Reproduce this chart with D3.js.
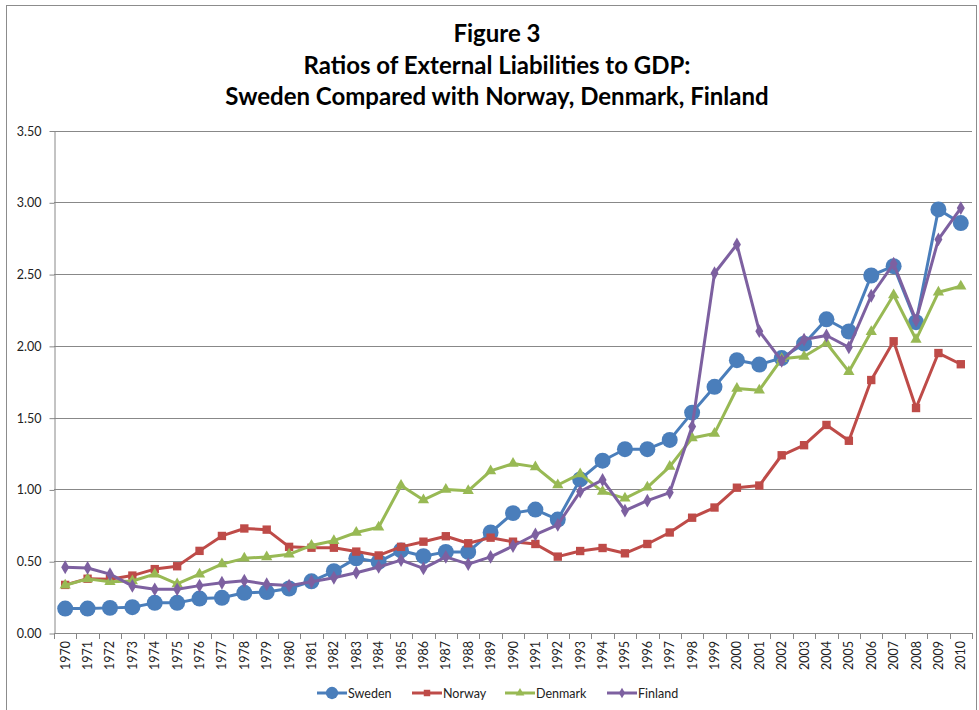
<!DOCTYPE html>
<html>
<head>
<meta charset="utf-8">
<script src="https://cdn.jsdelivr.net/npm/d3@7"></script>
<style>
	body { margin: 0; background: white; }
	text { font-family: Lato, 'Liberation Sans', sans-serif; }
</style>
</head>
<body>
<svg id="container" width="979" height="710"></svg>
<script>
// data
var years = d3.range(1970, 2011);
var sweden = [0.17, 0.17, 0.175, 0.18, 0.21, 0.21, 0.24, 0.245, 0.28, 0.285, 0.31,
	0.36, 0.43, 0.52, 0.495, 0.575, 0.535, 0.565, 0.565, 0.70, 0.835,
	0.86, 0.79, 1.07, 1.20, 1.28, 1.28, 1.345, 1.535, 1.715, 1.90,
	1.87, 1.915, 2.015, 2.185, 2.10, 2.49, 2.555, 2.165, 2.95, 2.855];
var norway = [0.335, 0.378, 0.375, 0.40, 0.445, 0.465, 0.572, 0.676, 0.728, 0.72, 0.60,
	0.594, 0.594, 0.567, 0.54, 0.60, 0.636, 0.674, 0.625, 0.664, 0.636,
	0.62, 0.532, 0.571, 0.592, 0.555, 0.62, 0.70, 0.803, 0.874, 1.012,
	1.027, 1.238, 1.308, 1.449, 1.339, 1.762, 2.032, 1.567, 1.95, 1.872];
var denmark = [0.333, 0.377, 0.357, 0.362, 0.41, 0.342, 0.41, 0.48, 0.52, 0.53, 0.548,
	0.61, 0.643, 0.70, 0.737, 1.027, 0.927, 1.00, 0.99, 1.129, 1.18,
	1.157, 1.031, 1.108, 0.985, 0.938, 1.015, 1.159, 1.358, 1.39, 1.703,
	1.691, 1.91, 1.926, 2.02, 1.82, 2.098, 2.354, 2.044, 2.373, 2.415];
var finland = [0.458, 0.453, 0.41, 0.328, 0.304, 0.304, 0.33, 0.35, 0.364, 0.34, 0.33,
	0.357, 0.385, 0.42, 0.46, 0.508, 0.45, 0.53, 0.48, 0.53, 0.606,
	0.686, 0.753, 0.985, 1.066, 0.852, 0.922, 0.978, 1.438, 2.506, 2.706,
	2.102, 1.896, 2.044, 2.072, 1.99, 2.349, 2.572, 2.178, 2.741, 2.96];
var yTicks = [0, 0.5, 1, 1.5, 2, 2.5, 3, 3.5];
var titleLines = ['Figure 3', 'Ratios of External Liabilities to GDP:', 'Sweden Compared with Norway, Denmark, Finland'];

var series = [
	{ name: 'Sweden', values: sweden, color: '#4a7ebb', symbol: d3.symbolCircle, size: 200 },
	{ name: 'Norway', values: norway, color: '#be4b48', symbol: d3.symbolSquare, size: 70 },
	{ name: 'Denmark', values: denmark, color: '#98b954', symbol: d3.symbolTriangle, size: 55 },
	{ name: 'Finland', values: finland, color: '#7d60a0', symbol: d3.symbolDiamond, size: 55 }
];

var svg = d3.select('#container');
var GRID = '#888888';

// outer frame
svg.append('rect')
	.attr('x', 6.5).attr('y', 5.5)
	.attr('width', 970).attr('height', 720)
	.attr('fill', 'none')
	.attr('stroke', '#8c8c8c');

// title
svg.append('g').selectAll('text')
	.data(titleLines)
	.enter()
	.append('text')
	.attr('x', 497)
	.attr('y', function(d, i) { return 42 + i * 31.5; })
	.attr('text-anchor', 'middle')
	.style('font-size', '24px')
	.style('font-weight', 'bold')
	.text(function(d) { return d; });

// scales
var x = d3.scaleBand().domain(years).range([54, 972]);
var y = d3.scaleLinear().domain([0, 3.5]).range([633, 130.5]);
var cx = function(i) { return x(years[i]) + x.bandwidth() / 2; };

// grid lines
svg.append('g').selectAll('line')
	.data(yTicks.slice(1))
	.enter()
	.append('line')
	.attr('x1', 54).attr('x2', 972)
	.attr('y1', function(d) { return Math.round(y(d)) + 0.5; })
	.attr('y2', function(d) { return Math.round(y(d)) + 0.5; })
	.attr('stroke', GRID);

// y axis
var yAxis = svg.append('g')
	.attr('transform', 'translate(54.5,0.5)')
	.call(d3.axisLeft(y).tickValues(yTicks).tickFormat(d3.format('.2f')).tickSize(5).tickSizeOuter(0));
yAxis.selectAll('path, line').attr('stroke', GRID);
yAxis.selectAll('text')
	.attr('x', -13)
	.style('font-size', '12.5px')
	.style('font-family', 'Lato, sans-serif')
	.attr('fill', '#222');

// x axis
svg.append('line')
	.attr('x1', 54).attr('x2', 972)
	.attr('y1', 633.5).attr('y2', 633.5)
	.attr('stroke', GRID);
svg.append('g').selectAll('line')
	.data(years.concat([2011]))
	.enter()
	.append('line')
	.attr('x1', function(d, i) { return Math.round(54 + i * x.bandwidth()) + 0.5; })
	.attr('x2', function(d, i) { return Math.round(54 + i * x.bandwidth()) + 0.5; })
	.attr('y1', 633).attr('y2', 639)
	.attr('stroke', GRID);
svg.append('g').selectAll('text')
	.data(years)
	.enter()
	.append('text')
	.attr('transform', function(d, i) { return 'translate(' + (cx(i) + 4.5) + ',641) rotate(-90)'; })
	.attr('text-anchor', 'end')
	.style('font-size', '12.5px')
	.attr('fill', '#222')
	.text(function(d) { return d; });

// lines and markers
var line = d3.line()
	.x(function(d, i) { return cx(i); })
	.y(function(d) { return y(d); });

series.forEach(function(s) {
	svg.append('path')
		.datum(s.values)
		.attr('d', line)
		.attr('fill', 'none')
		.attr('stroke', s.color)
		.attr('stroke-width', 3)
		.attr('stroke-linejoin', 'round');
	svg.append('g').selectAll('path')
		.data(s.values)
		.enter()
		.append('path')
		.attr('transform', function(d, i) { return 'translate(' + cx(i) + ',' + y(d) + ')'; })
		.attr('d', d3.symbol().type(s.symbol).size(s.size))
		.attr('fill', s.color);
});

// legend
var legendX = [317, 412, 505, 607];
var legend = svg.append('g').selectAll('g')
	.data(series)
	.enter()
	.append('g')
	.attr('transform', function(d, i) { return 'translate(' + legendX[i] + ',693)'; });
legend.append('line')
	.attr('x1', 0).attr('x2', 30)
	.attr('stroke', function(d) { return d.color; })
	.attr('stroke-width', 3);
legend.append('path')
	.attr('transform', 'translate(15,0)')
	.attr('d', function(d) { return d3.symbol().type(d.symbol).size(d.size * 0.6)(); })
	.attr('fill', function(d) { return d.color; });
legend.append('text')
	.attr('x', 31)
	.attr('y', 4.5)
	.style('font-size', '12.5px')
	.attr('fill', '#222')
	.text(function(d) { return d.name; });
</script>
</body>
</html>
